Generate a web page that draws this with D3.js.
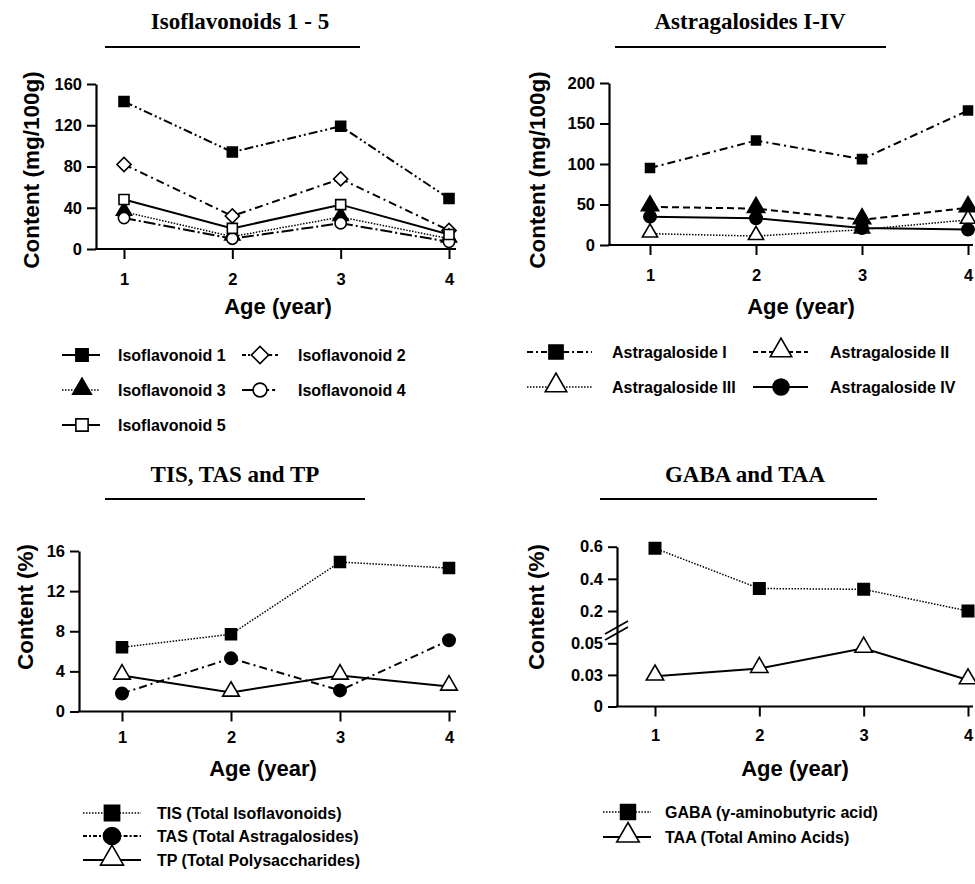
<!DOCTYPE html>
<html>
<head>
<meta charset="utf-8">
<script src="https://cdn.jsdelivr.net/npm/d3@7"></script>
<style>
  body { margin: 0; background: #fff; }
  text { font-family: "Liberation Sans", Arial, sans-serif; font-weight: bold; fill: #000; }
</style>
</head>
<body>
<svg id="chart" width="975" height="884"></svg>
<script>
// ages on the x axis, shared by all four panels
const ages = [1, 2, 3, 4];

// panel A: isoflavonoids (mg/100g)
const iso1 = [143, 94, 119, 49];
const iso2 = [82, 32, 68, 18];
const iso3 = [36, 12, 31, 10];
const iso4 = [30, 10, 25, 7];
const iso5 = [48, 20, 43, 14];
const isoTicks = [0, 40, 80, 120, 160];

// panel B: astragalosides (mg/100g)
const astI = [95, 129, 106, 166];
const astII = [47, 45, 31, 46];
const astIII = [14, 11, 19, 31];
const astIV = [35, 33, 21, 19];
const astTicks = [0, 50, 100, 150, 200];

// panel C: totals (%)
const tis = [6.4, 7.7, 14.9, 14.3];
const tas = [1.8, 5.3, 2.1, 7.1];
const tp = [3.6, 1.9, 3.6, 2.5];
const totTicks = [0, 4, 8, 12, 16];

// panel D: GABA / TAA (%), broken axis
const gaba = [0.59, 0.34, 0.335, 0.2];
const taa = [0.024, 0.030, 0.046, 0.021];
const gabaTicks = [0, 0.025, 0.05, 0.2, 0.4, 0.6];
const gabaTickLabels = ['0', '0.03', '0.05', '0.2', '0.4', '0.6'];

const DASH_DOT_DOT = '9,3,2,3,2,3';
const DASH_DOT = '8,4,2,4';
const LONG_DASH_DOT = '12,3,2,3';
const DASHED = '7,4';
const DOTTED = '1.5,1.5';

const svg = d3.select('#chart');

const panels = [
  {
    title: 'Isoflavonoids 1 - 5', titleX: 240, titleY: 29, underline: [105, 360, 47],
    axisX: 96, xRange: [124, 449], xEnd: 456,
    yDomain: [0, 160], yRange: [249, 84], yTicks: isoTicks,
    yLabel: 'Content (mg/100g)', yLabelPos: [31, 170],
    tickLabelY: 279, xLabelPos: [278, 306],
    markerSize: 100, legendMarkerSize: 150,
    legendRows: [355, 390, 425],
    legendCols: [{s0: 62, s1: 100, m: 82, tx: 118}, {s0: 242, s1: 278, m: 260, tx: 298}],
    series: [
      {name: 'Isoflavonoid 1', values: iso1, sym: 'square', fill: true, dash: DASH_DOT_DOT, legendDash: [null, null], row: 0, col: 0},
      {name: 'Isoflavonoid 2', values: iso2, sym: 'diamond', fill: false, dash: DASH_DOT, legendDash: ['4,2,2,2', '6,3'], row: 0, col: 1},
      {name: 'Isoflavonoid 3', values: iso3, sym: 'triangle', fill: true, dash: DOTTED, legendDash: [DOTTED, DOTTED], row: 1, col: 0},
      {name: 'Isoflavonoid 4', values: iso4, sym: 'circle', fill: false, dash: LONG_DASH_DOT, legendDash: [null, '3,3'], row: 1, col: 1},
      {name: 'Isoflavonoid 5', values: iso5, sym: 'square', fill: false, dash: null, legendDash: [null, null], row: 2, col: 0}
    ]
  },
  {
    title: 'Astragalosides I-IV', titleX: 750, titleY: 29, underline: [615, 886, 47],
    axisX: 609, xRange: [650, 968], xEnd: 973,
    yDomain: [0, 200], yRange: [245, 83], yTicks: astTicks,
    yLabel: 'Content (mg/100g)', yLabelPos: [537, 170],
    tickLabelY: 275, xLabelPos: [801, 306],
    markerSize: 80, legendMarkerSize: 200,
    legendRows: [352, 387],
    legendCols: [{s0: 527, s1: 592, m: 556, tx: 612}, {s0: 753, s1: 808, m: 781, tx: 830}],
    series: [
      {name: 'Astragaloside I', values: astI, sym: 'square', fill: true, dash: DASH_DOT, legendDash: ['6,3,2,3', '6,3,2,3'], row: 0, col: 0},
      {name: 'Astragaloside II', values: astII, sym: 'triangle', fill: true, legendFill: false, dash: DASHED, legendDash: ['5,3', '5,3'], row: 0, col: 1, size: 130},
      {name: 'Astragaloside III', values: astIII, sym: 'triangle', fill: false, dash: DOTTED, legendDash: [DOTTED, DOTTED], row: 1, col: 0, size: 100},
      {name: 'Astragaloside IV', values: astIV, sym: 'circle', fill: true, dash: null, legendDash: [null, null], row: 1, col: 1, size: 120}
    ]
  },
  {
    title: 'TIS, TAS and TP', titleX: 235, titleY: 482, underline: [105, 365, 499],
    axisX: 79, xRange: [122, 449], xEnd: 456,
    yDomain: [0, 16], yRange: [711.5, 551], yTicks: totTicks,
    yLabel: 'Content (%)', yLabelPos: [25, 607],
    tickLabelY: 737, xLabelPos: [263, 768],
    markerSize: 120, legendMarkerSize: 230,
    legendRows: [813, 836, 860],
    legendCols: [{s0: 83, s1: 141, m: 112, tx: 157}],
    series: [
      {name: 'TIS (Total Isoflavonoids)', values: tis, sym: 'square', fill: true, dash: DOTTED, legendDash: [DOTTED, DOTTED], row: 0, col: 0},
      {name: 'TAS (Total Astragalosides)', values: tas, sym: 'circle', fill: true, dash: DASH_DOT, legendDash: ['4,2,2,2', '2,2,4,2'], row: 1, col: 0},
      {name: 'TP (Total Polysaccharides)', values: tp, sym: 'triangle', fill: false, dash: null, legendDash: [null, null], row: 2, col: 0}
    ]
  },
  {
    title: 'GABA and TAA', titleX: 745, titleY: 482, underline: [600, 877, 499],
    axisX: 617, xRange: [655, 968], xEnd: 973,
    yDomain: [0, 0.05, 0.2, 0.6], yRange: [706.5, 643.3, 611, 546.7],
    yTicks: gabaTicks, yTickLabels: gabaTickLabels, yBreak: 627,
    yLabel: 'Content (%)', yLabelPos: [536, 607],
    tickLabelY: 735, xLabelPos: [795, 768],
    markerSize: 130, legendMarkerSize: 220,
    legendRows: [812, 837],
    legendCols: [{s0: 603, s1: 651, m: 628, tx: 665}],
    series: [
      {name: 'GABA (\u03b3-aminobutyric acid)', values: gaba, sym: 'square', fill: true, dash: DOTTED, legendDash: [DOTTED, DOTTED], row: 0, col: 0},
      {name: 'TAA (Total Amino Acids)', values: taa, sym: 'triangle', fill: false, dash: null, legendDash: [null, null], row: 1, col: 0}
    ]
  }
];

const symbolTypes = {
  square: d3.symbolSquare,
  diamond: d3.symbolSquare,
  triangle: d3.symbolTriangle,
  circle: d3.symbolCircle
};

function addMarker(parent, s, cx, cy, size, filled) {
  const shape = d3.symbol().type(symbolTypes[s.sym]).size(size)();
  const rot = s.sym === 'diamond' ? ' rotate(45)' : '';
  const dy = s.sym === 'triangle' ? Math.sqrt(size) * 0.1 : 0;
  parent.append('path')
    .attr('d', shape)
    .attr('transform', `translate(${cx},${cy - dy})${rot}`)
    .attr('fill', filled ? '#000' : '#fff')
    .attr('stroke', '#000')
    .attr('stroke-width', 1.6);
}

function drawPanel(p) {
  const g = svg.append('g');
  const x = d3.scaleLinear().domain([1, 4]).range(p.xRange);
  const y = d3.scaleLinear().domain(p.yDomain).range(p.yRange);
  const y0 = y(0);

  // title with underline
  g.append('text')
    .attr('x', p.titleX).attr('y', p.titleY)
    .attr('text-anchor', 'middle')
    .style('font-family', '"Liberation Serif", "Times New Roman", serif')
    .style('font-size', '23px')
    .text(p.title);
  g.append('line')
    .attr('x1', p.underline[0]).attr('x2', p.underline[1])
    .attr('y1', p.underline[2]).attr('y2', p.underline[2])
    .attr('stroke', '#000').attr('stroke-width', 2);

  // y axis
  const yAxis = d3.axisLeft(y)
    .tickValues(p.yTicks)
    .tickSize(9)
    .tickSizeOuter(0)
    .tickPadding(5)
    .tickFormat((d, i) => p.yTickLabels ? p.yTickLabels[i] : d);
  const ya = g.append('g')
    .attr('transform', `translate(${p.axisX},0)`)
    .call(yAxis);
  ya.select('.domain').attr('stroke-width', 2.2);
  ya.selectAll('.tick line').attr('stroke-width', 2);
  ya.selectAll('.tick text')
    .style('font-family', '"Liberation Sans", Arial, sans-serif')
    .style('font-size', '16.5px').style('font-weight', 'bold');

  if (p.yBreak) {
    [0, 6].forEach(off => {
      g.append('line')
        .attr('x1', p.axisX - 12).attr('y1', p.yBreak + 7 + off)
        .attr('x2', p.axisX + 11).attr('y2', p.yBreak - 6 + off)
        .attr('stroke', '#000').attr('stroke-width', 1.8);
    });
  }

  // x axis
  const xAxis = d3.axisBottom(x)
    .tickValues(ages)
    .tickSize(10)
    .tickSizeOuter(0)
    .tickPadding(10)
    .tickFormat(d3.format('d'));
  const xa = g.append('g')
    .attr('transform', `translate(0,${y0})`)
    .call(xAxis);
  xa.select('.domain').remove();
  xa.selectAll('.tick line').attr('stroke-width', 2);
  xa.selectAll('.tick text')
    .attr('y', null).attr('dy', null)
    .attr('transform', `translate(0,${p.tickLabelY - y0})`)
    .attr('dominant-baseline', 'central')
    .style('font-family', '"Liberation Sans", Arial, sans-serif')
    .style('font-size', '16.5px').style('font-weight', 'bold');
  g.append('line')
    .attr('x1', p.axisX - 1).attr('x2', p.xEnd)
    .attr('y1', y0).attr('y2', y0)
    .attr('stroke', '#000').attr('stroke-width', 2.2);

  // axis titles
  g.append('text')
    .attr('transform', `translate(${p.yLabelPos[0]},${p.yLabelPos[1]}) rotate(-90)`)
    .attr('text-anchor', 'middle')
    .attr('dominant-baseline', 'central')
    .style('font-size', '22.5px')
    .text(p.yLabel);
  g.append('text')
    .attr('x', p.xLabelPos[0]).attr('y', p.xLabelPos[1])
    .attr('text-anchor', 'middle')
    .attr('dominant-baseline', 'central')
    .style('font-size', '22px')
    .text('Age (year)');

  // series lines then markers
  const line = d3.line().x((d, i) => x(ages[i])).y(d => y(d));
  p.series.forEach(s => {
    g.append('path')
      .attr('d', line(s.values))
      .attr('fill', 'none')
      .attr('stroke', '#000')
      .attr('stroke-width', s.dash === DOTTED ? 1.5 : 2)
      .attr('stroke-dasharray', s.dash);
  });
  p.series.forEach(s => {
    s.values.forEach((v, i) => {
      addMarker(g, s, x(ages[i]), y(v), s.size || p.markerSize, s.fill);
    });
  });

  // legend
  p.series.forEach(s => {
    const c = p.legendCols[s.col];
    const ly = p.legendRows[s.row];
    const half = Math.sqrt(p.legendMarkerSize) / 2;
    [[c.s0, c.m - half], [c.m + half, c.s1]].forEach((seg, k) => {
      g.append('line')
        .attr('x1', seg[0]).attr('x2', seg[1])
        .attr('y1', ly).attr('y2', ly)
        .attr('stroke', '#000')
        .attr('stroke-width', s.legendDash[k] === DOTTED ? 1.3 : 2)
        .attr('stroke-dasharray', s.legendDash[k]);
    });
    const lf = s.legendFill === undefined ? s.fill : s.legendFill;
    addMarker(g, s, c.m, ly, p.legendMarkerSize, lf);
    g.append('text')
      .attr('x', c.tx).attr('y', ly)
      .attr('dominant-baseline', 'central')
      .style('font-size', '16px')
      .text(s.name);
  });
}

panels.forEach(drawPanel);
</script>
</body>
</html>
